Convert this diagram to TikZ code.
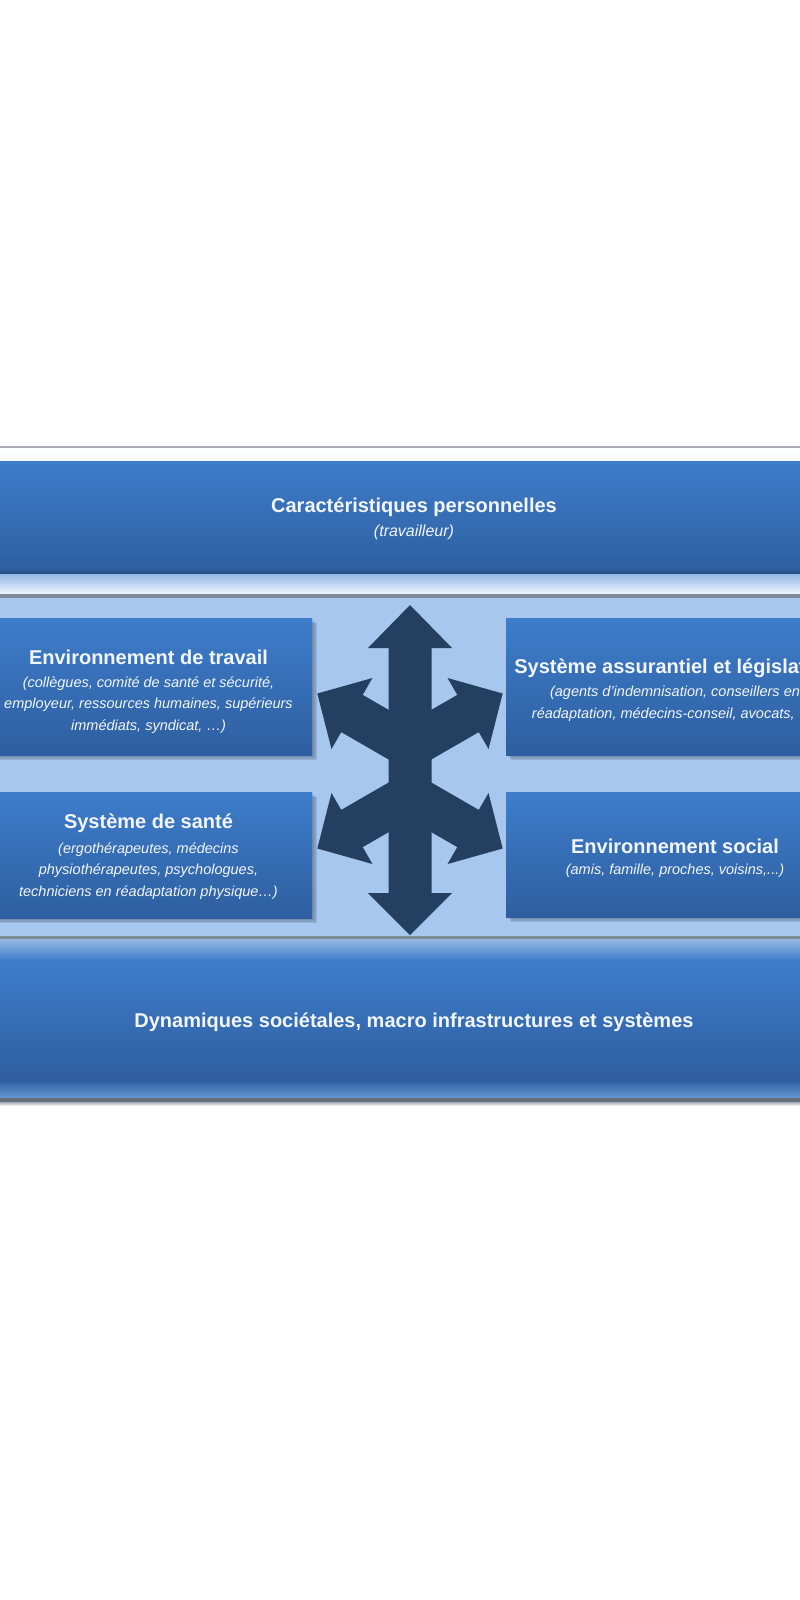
\documentclass[tikz,border=0pt]{standalone}
\usepackage{fontspec}
\setmainfont{Liberation Sans}
\definecolor{bandtop}{HTML}{3E7DCA}
\definecolor{bandbot}{HTML}{2E5EA0}
\definecolor{panel}{HTML}{A7C7EF}
\definecolor{starc}{HTML}{243F60}
\definecolor{txt}{HTML}{F2F6FC}
\definecolor{linegray}{HTML}{A8ADB3}
\definecolor{darkline}{HTML}{7E8C9A}
\begin{document}
\begin{tikzpicture}[x=1pt,y=-1pt,
  band/.style={draw=none, shade, top color=bandtop, bottom color=bandbot, inner sep=0, outer sep=0},
  boxc/.style={draw=none, shade, top color=bandtop, bottom color=bandbot, inner sep=0, outer sep=0},
  head/.style={text=txt, font=\fontsize{20}{24}\selectfont\bfseries, inner sep=0, align=center},
  sub/.style={text=txt, font=\fontsize{14.5}{21.8}\selectfont\itshape, inner sep=0, align=center},
  shadowc/.style={fill=black, opacity=0.10},
  starfill/.style={fill=starc, draw=none}]
\useasboundingbox (0,0) rectangle (800,1600);
\fill[white] (0,0) rectangle (800,1600);
\begin{scope}
\clip (0,0) rectangle (800,1600);
% top separator
\fill[linegray] (0,446.3) rectangle (800,448);
\shade[top color=white, bottom color=white!90!panel] (0,448) rectangle (800,461);
% top band
\node[band, minimum width=800, minimum height=112, anchor=north west] (perso) at (0,461) {};
\shade[top color=bandbot, bottom color=bandbot!80!black] (0,568) rectangle (800,574);
\shade[top color=panel!80!bandtop, bottom color=white!85!panel] (0,574) rectangle (800,594);
\fill[darkline] (0,594) rectangle (800,598);
% middle panel
\fill[panel] (0,598) rectangle (800,936);
% bottom band
\fill[darkline] (0,936) rectangle (800,939.5);
\shade[top color=white!45!bandtop, bottom color=bandtop] (0,939.5) rectangle (800,960);
\node[band, minimum width=800, minimum height=120, anchor=north west] (dyn) at (0,960) {};
\shade[top color=bandbot, bottom color=white!20!bandtop] (0,1080) rectangle (800,1098);
\fill[darkline!80!black] (0,1098) rectangle (800,1102);
\shade[top color=linegray, bottom color=white] (0,1102) rectangle (800,1106);
% box shadows
\foreach \d in {2,3.5,5}{
  \fill[shadowc] (-15+\d,618+\d) rectangle (312+\d,755+\d);
  \fill[shadowc] (-15+\d,792+\d) rectangle (312+\d,918+\d);
  \fill[shadowc] (506+\d,618+\d) rectangle (844+\d,755+\d);
  \fill[shadowc] (506+\d,792+\d) rectangle (844+\d,917+\d);
}
% boxes
\node[boxc, minimum width=327, minimum height=137, anchor=north west] (travail) at (-15,618) {};
\node[boxc, minimum width=327, minimum height=126, anchor=north west] (sante) at (-15,792) {};
\node[boxc, minimum width=338, minimum height=137, anchor=north west] (assur) at (506,618) {};
\node[boxc, minimum width=338, minimum height=125, anchor=north west] (social) at (506,792) {};
% star of arrows
\fill[starfill] (410,605) -- (452,648) -- (431.5,648) -- (431.5,893) -- (452,893) -- (410,935)
  -- (368,893) -- (388.5,893) -- (388.5,648) -- (368,648) -- cycle;
\foreach \a/\yy in {150/747, 30/747, 210/795, 330/795}{
  \fill[starfill, shift={(410,\yy)}, rotate=\a] (0,-21.5) -- (67,-21.5) -- (67,-41) -- (107,0)
    -- (67,41) -- (67,21.5) -- (0,21.5) -- cycle;
}
% texts
\node[head] (perso-h) at (414,507) {Caractéristiques personnelles};
\node[sub, font=\fontsize{16}{20}\selectfont\itshape] (perso-s) at (414,532) {(travailleur)};
\node[head] (travail-h) at (148.5,657) {Environnement de travail};
\node[sub] (travail-s) at (148.5,705) {(collègues, comité de santé et sécurité,\\employeur, ressources humaines, supérieurs\\immédiats, syndicat, …)};
\node[head] (sante-h) at (148.5,823) {Système de santé};
\node[sub] (sante-s) at (148.5,871) {(ergothérapeutes, médecins\\physiothérapeutes, psychologues,\\techniciens en réadaptation physique…)};
\node[head] (assur-h) at (675,668) {Système assurantiel et législation};
\node[sub] (assur-s) at (675,704) {(agents d’indemnisation, conseillers en\\réadaptation, médecins-conseil, avocats, …)};
\node[head] (social-h) at (675,846) {Environnement social};
\node[sub] (social-s) at (675,871) {(amis, famille, proches, voisins,...)};
\node[head] (dyn-h) at (414,1022) {Dynamiques sociétales, macro infrastructures et systèmes};
\end{scope}
\end{tikzpicture}
\end{document}
